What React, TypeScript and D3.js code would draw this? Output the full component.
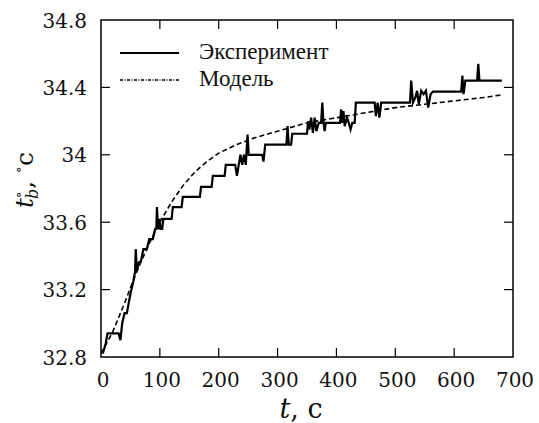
import React from "react";
import * as d3 from "d3";

// x ticks (time, s) and y ticks (temperature)
const xTicks = [0, 100, 200, 300, 400, 500, 600, 700];
const yTicks = [32.8, 33.2, 33.6, 34, 34.4, 34.8];
const yTickLabels = ["32.8", "33.2", "33.6", "34", "34.4", "34.8"];

// experiment: [t, temperature]
const experiment: [number, number][] = [
  [3, 32.82], [8, 32.88], [11, 32.94], [30, 32.94], [33, 32.9], [36, 33.0],
  [40, 33.06], [44, 33.06], [47, 33.12], [51, 33.19], [55, 33.25], [58, 33.31],
  [59, 33.44], [61, 33.31], [64, 33.36], [68, 33.37], [72, 33.44], [78, 33.44],
  [82, 33.5], [88, 33.5], [92, 33.56], [94, 33.56], [95, 33.69], [97, 33.56],
  [100, 33.62], [101, 33.56], [104, 33.56], [106, 33.62], [120, 33.62], [122, 33.69],
  [137, 33.69], [139, 33.75], [168, 33.75], [170, 33.81], [188, 33.81], [190, 33.875],
  [210, 33.875], [212, 33.94], [228, 33.94], [231, 33.875], [234, 33.94], [237, 34.0],
  [240, 33.94], [243, 34.0], [246, 33.94], [249, 34.12], [251, 34.0], [274, 34.0],
  [276, 33.96], [279, 34.06], [315, 34.06], [317, 34.17], [319, 34.06], [323, 34.06],
  [325, 34.125], [350, 34.125], [352, 34.2], [354, 34.15], [357, 34.22], [360, 34.13],
  [363, 34.22], [366, 34.14], [370, 34.19], [374, 34.19], [376, 34.31], [378, 34.19],
  [380, 34.14], [382, 34.19], [406, 34.19], [408, 34.27], [410, 34.19], [412, 34.26],
  [414, 34.17], [418, 34.22], [421, 34.19], [424, 34.15], [427, 34.19], [431, 34.19],
  [433, 34.31], [465, 34.31], [467, 34.23], [470, 34.31], [473, 34.22], [476, 34.31],
  [525, 34.31], [527, 34.44], [530, 34.31], [534, 34.34], [537, 34.38], [540, 34.3],
  [544, 34.38], [548, 34.36], [552, 34.38], [556, 34.28], [560, 34.36], [564, 34.375],
  [612, 34.375], [614, 34.47], [616, 34.36], [619, 34.44], [639, 34.44], [641, 34.54],
  [643, 34.44], [681, 34.44],
];

// model curve
const model: [number, number][] = [
  [0, 32.82], [20, 32.95], [40, 33.12], [60, 33.3], [80, 33.46], [100, 33.6],
  [120, 33.72], [140, 33.82], [160, 33.9], [180, 33.96], [200, 34.01], [230, 34.06],
  [260, 34.1], [300, 34.14], [350, 34.19], [400, 34.22], [450, 34.25], [500, 34.28],
  [550, 34.3], [600, 34.32], [650, 34.34], [680, 34.355],
];

const W = 539;
const H = 423;
const left = 101, right = 513, top = 20, bottom = 357;
const tickLen = 9;

const serif = { fontFamily: '"DejaVu Serif"' };
const times = { fontFamily: '"Liberation Serif"' };

export default function App() {
  const x = d3.scaleLinear().domain([0, 700]).range([left, right]);
  const y = d3.scaleLinear().domain([32.8, 34.8]).range([bottom, top]);

  const line = d3.line<[number, number]>()
    .x(d => x(d[0]))
    .y(d => y(d[1]));

  return (
    <svg width={W} height={H} style={{ position: "absolute", left: 0, top: 0, background: "#fff", fontFamily: '"DejaVu Serif"' }}>
      <rect x={0} y={0} width={W} height={H} fill="#fff" />

      {/* data */}
      <path d={line(model) || ""} fill="none" stroke="#000" strokeWidth={1.6} strokeDasharray="5,3" />
      <path d={line(experiment) || ""} fill="none" stroke="#000" strokeWidth={2.2} />

      {/* frame */}
      <rect x={left} y={top} width={right - left} height={bottom - top} fill="none" stroke="#000" strokeWidth={1.5} />

      {/* x ticks */}
      {xTicks.map(t => (
        <g key={"x" + t}>
          {t > 0 && t < 700 && (
            <>
              <line x1={x(t)} x2={x(t)} y1={bottom} y2={bottom - tickLen} stroke="#000" strokeWidth={1.2} />
              <line x1={x(t)} x2={x(t)} y1={top} y2={top + tickLen} stroke="#000" strokeWidth={1.2} />
            </>
          )}
          <text x={x(t) + 2} y={387} textAnchor="middle" style={serif} fontSize={20} fill="#111">
            {t}
          </text>
        </g>
      ))}

      {/* y ticks */}
      {yTicks.map((v, i) => (
        <g key={"y" + v}>
          {i > 0 && i < yTicks.length - 1 && (
            <>
              <line x1={left} x2={left + tickLen} y1={y(v)} y2={y(v)} stroke="#000" strokeWidth={1.2} />
              <line x1={right} x2={right - tickLen} y1={y(v)} y2={y(v)} stroke="#000" strokeWidth={1.2} />
            </>
          )}
          <text x={87} y={y(v) + 7.5} textAnchor="end" style={serif} fontSize={20} fill="#111">
            {yTickLabels[i]}
          </text>
        </g>
      ))}

      {/* axis titles */}
      <text x={301} y={418} textAnchor="middle" style={serif} fontSize={27} fill="#111">
        <tspan fontStyle="italic">t</tspan>
        <tspan>,   c</tspan>
      </text>
      <text transform="translate(33,180) rotate(-90)" textAnchor="middle" style={serif} fontSize={25} fill="#111">
        <tspan fontStyle="italic">t</tspan>
        <tspan fontSize={14} dy={-10}>∘</tspan>
        <tspan fontSize={16} fontStyle="italic" dx={-8} dy={15}>b</tspan>
        <tspan dy={-5}>, </tspan>
        <tspan fontSize={14} dy={-10}>∘</tspan>
        <tspan dy={10}>c</tspan>
      </text>

      {/* legend */}
      <line x1={120} x2={179} y1={53} y2={53} stroke="#000" strokeWidth={2.2} />
      <text x={199} y={59} style={times} fontSize={23} fill="#111">Эксперимент</text>
      <line x1={120} x2={179} y1={80} y2={80} stroke="#000" strokeWidth={1.6} strokeDasharray="3,1.5,1,1.5" />
      <text x={199} y={86} style={times} fontSize={23} fill="#111">Модель</text>
    </svg>
  );
}
